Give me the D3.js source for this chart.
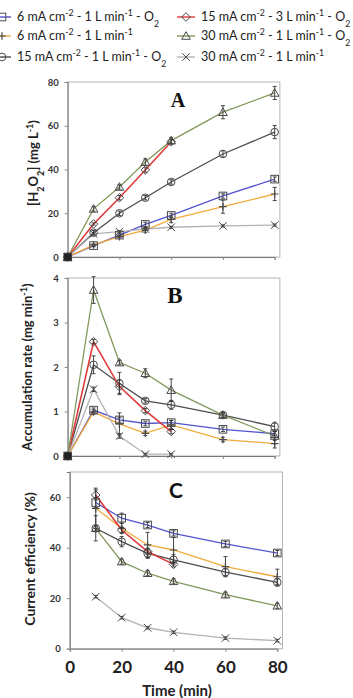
<!DOCTYPE html>
<html><head><meta charset="utf-8">
<script src="https://cdn.jsdelivr.net/npm/d3@7"></script>
<style>html,body{margin:0;padding:0;background:#fff;overflow:hidden}svg{display:block}</style>
</head><body>
<svg id="c" width="353" height="698"></svg>
<script>
// ---------- data ----------
const timesAB = [0, 10, 20, 30, 40, 60, 80];
const timesC = [10, 20, 30, 40, 60, 80];
const seriesKeys = ["sq", "plus", "circ", "diam", "tri", "x"];
const seriesColors = ["#5353cf", "#f0ac3a", "#4d4d4d", "#e03a3a", "#82995c", "#b3b3b3"];
const legendMain = ["6 mA cm", "6 mA cm", "15 mA cm", "15 mA cm", "30 mA cm", "30 mA cm"];
const legendFlow = ["1 L min", "1 L min", "1 L min", "3 L min", "1 L min", "1 L min"];
const legendO2 = [true, false, true, true, true, false];

// Panel A: [H2O2] (mg/L)
const A_sq   = [0, 5.2, 10.0, 14.9, 19.0, 27.9, 35.6];
const A_plus = [0, 5.5, 9.3, 12.3, 17.2, 23.0, 28.8];
const A_circ = [0, 11.1, 20.0, 27.1, 34.3, 47.1, 57.1];
const A_diam = [0, 15.1, 27.1, 39.8, 52.7];
const A_tri  = [0, 22.0, 32.0, 43.4, 53.2, 66.2, 75.0];
const A_x    = [0, 10.6, 11.6, 12.8, 13.6, 14.2, 14.6];
const A_err = {sq:[0,0.5,0.5,1,1,1,1], plus:[0,0.5,0.5,1,1.5,3,3], circ:[0,1,1,1,1,1.5,3],
  diam:[0,0.5,1,1,1], tri:[0,1,1,1.5,1.5,3,3], x:[0,0.5,0.5,0.5,0.5,0.5,0.5]};

// Panel B: accumulation rate (mg/min)
const B_sq   = [0, 1.03, 0.81, 0.73, 0.75, 0.60, 0.50];
const B_plus = [0, 0.99, 0.72, 0.51, 0.70, 0.37, 0.28];
const B_circ = [0, 2.05, 1.63, 1.24, 1.15, 0.92, 0.66];
const B_diam = [0, 2.57, 1.56, 1.02, 0.55];
const B_tri  = [0, 3.73, 2.10, 1.86, 1.48, 0.92, 0.45];
const B_x    = [0, 1.50, 0.45, 0.04, 0.04];
const B_err = {sq:[0,0.05,0.05,0.05,0.05,0.05,0.05], plus:[0,0.05,0.25,0.05,0.1,0.05,0.1],
  circ:[0,0.2,0.25,0.05,0.1,0.05,0.1], diam:[0,0.05,0.15,0.05,0.05], tri:[0,0.3,0.05,0.1,0.25,0.05,0.1],
  x:[0,0.05,0.05,0.02,0.02]};

// Panel C: current efficiency (%)
const C_sq   = [57.9, 51.7, 49.0, 45.7, 41.5, 37.9];
const C_plus = [55.6, 47.7, 41.1, 39.1, 32.5, 28.5];
const C_circ = [47.7, 42.4, 37.8, 35.2, 30.3, 26.3];
const C_diam = [60.9, 47.0, 38.5, 33.4];
const C_tri  = [47.7, 34.5, 29.9, 26.7, 21.4, 17.0];
const C_x    = [20.6, 12.3, 8.3, 6.5, 4.2, 3.2];
const C_err = {sq:[2,2,1,1,1,1], plus:[8,2,5,5,4,3], circ:[5,2,2,2,1.5,1.5],
  diam:[2,1,1,1], tri:[1,1,1,1,1,1], x:[0.5,0.5,0.5,0.5,0.5,0.5]};

const yTicksA = [0, 20, 40, 60, 80];
const yTicksB = [0, 1, 2, 3, 4];
const yTicksC = [0, 20, 40, 60];
const xTicks = [0, 20, 40, 60, 80];

// ---------- drawing ----------
const svg = d3.select("#c");
const SANS = "Lato, 'Open Sans', sans-serif";

function marker(g, key, cx, cy, s) {
  const st = "#4a4a4a";
  if (key === "sq") g.append("rect").attr("x", cx - s).attr("y", cy - s).attr("width", 2*s).attr("height", 2*s).attr("fill", "none").attr("stroke", st).attr("stroke-width", 1);
  else if (key === "circ") g.append("circle").attr("cx", cx).attr("cy", cy).attr("r", s).attr("fill", "none").attr("stroke", st).attr("stroke-width", 1);
  else if (key === "diam") g.append("path").attr("d", `M${cx},${cy-s-0.5}L${cx+s+0.5},${cy}L${cx},${cy+s+0.5}L${cx-s-0.5},${cy}Z`).attr("fill", "none").attr("stroke", st).attr("stroke-width", 1);
  else if (key === "tri") g.append("path").attr("d", `M${cx},${cy-s-0.5}L${cx+s+0.5},${cy+s-0.5}L${cx-s-0.5},${cy+s-0.5}Z`).attr("fill", "none").attr("stroke", st).attr("stroke-width", 1);
  else if (key === "plus") g.append("path").attr("d", `M${cx-s},${cy}L${cx+s},${cy}M${cx},${cy-s}L${cx},${cy+s}`).attr("stroke", st).attr("stroke-width", 1.2);
  else if (key === "x") g.append("path").attr("d", `M${cx-s},${cy-s}L${cx+s},${cy+s}M${cx-s},${cy+s}L${cx+s},${cy-s}`).attr("stroke", st).attr("stroke-width", 1);
}

function panel(opt) {
  const x = d3.scaleLinear().domain([0, 80]).range(opt.xr);
  const y = d3.scaleLinear().domain(opt.yd).range(opt.yr);
  const g = svg.append("g");
  const x0 = x(0), x1 = x(82), y0 = y(opt.yd[0]), y1 = y(opt.yd[1]);
  g.append("rect").attr("x", x0).attr("y", y1).attr("width", x1 - x0).attr("height", y0 - y1)
    .attr("fill", "none").attr("stroke", "#b5b5b5").attr("stroke-width", 1);
  // y axis
  const ya = g.append("g").attr("transform", `translate(${x0},0)`)
    .call(d3.axisLeft(y).tickValues(opt.yt).tickSize(3).tickPadding(6).tickFormat(d3.format("d")));
  ya.select(".domain").attr("stroke", "#777");
  ya.selectAll(".tick line").attr("stroke", "#888");
  ya.selectAll("text").attr("font-family", SANS).attr("font-weight", "bold").attr("font-size", 9.5).attr("fill", "#333");
  // x axis
  const xa = g.append("g").attr("transform", `translate(0,${y0})`)
    .call(d3.axisBottom(x).tickValues(xTicks).tickSize(3).tickFormat(opt.xlab ? d3.format("d") : ""));
  xa.select(".domain").attr("stroke", "#777");
  xa.selectAll(".tick line").attr("stroke", "#888");
  xa.selectAll("text").attr("font-family", SANS).attr("font-weight", "bold").attr("font-size", 17).attr("fill", "#222").attr("dy", "1.1em");
  // series
  const line = d3.line().defined(d => d[1] != null).x(d => x(d[0])).y(d => y(d[1]));
  opt.data.forEach((vals, i) => {
    const key = seriesKeys[i];
    const pts = vals.map((v, j) => [opt.times[j], v]);
    g.append("path").datum(pts).attr("d", line).attr("fill", "none")
      .attr("stroke", seriesColors[i]).attr("stroke-width", key === "diam" ? 1.6 : 1.3);
  });
  opt.data.forEach((vals, i) => {
    const key = seriesKeys[i];
    const err = opt.err[key];
    vals.forEach((v, j) => {
      const e = err[j] || 0;
      const cx = x(opt.times[j]);
      if (e > 0.0) {
        g.append("path").attr("d", `M${cx},${y(v - e)}L${cx},${y(v + e)}M${cx-2},${y(v - e)}L${cx+2},${y(v - e)}M${cx-2},${y(v + e)}L${cx+2},${y(v + e)}`)
          .attr("stroke", "#333").attr("stroke-width", 0.9).attr("fill", "none");
      }
      marker(g, key, cx, y(v), 3.8);
    });
  });
  // zero-point block
  if (opt.times[0] === 0) {
    g.append("rect").attr("x", x(0) - 3.5).attr("y", y(0) - 3.5).attr("width", 7).attr("height", 7).attr("fill", "#222");
  }
  // panel letter
  g.append("text").attr("x", opt.lx).attr("y", opt.ly).attr("text-anchor", "middle")
    .attr("font-family", opt.lfont).attr("font-weight", "bold").attr("font-size", opt.lsize).attr("fill", "#111").text(opt.letter);
  // y title
  const t = g.append("text").attr("transform", `translate(${opt.tx},${opt.ty}) rotate(-90)`).attr("text-anchor", "middle")
    .attr("font-family", SANS).attr("font-weight", "bold").attr("font-size", opt.tsize).attr("fill", "#222");
  opt.title(t);
}

function sup(t, s) { t.append("tspan").attr("baseline-shift", "super").attr("font-size", "70%").text(s); }
function sub(t, s) { t.append("tspan").attr("baseline-shift", "sub").attr("font-size", "70%").text(s); }

panel({
  xr: [67.7, 274.7], yd: [0, 80], yr: [257, 82], yt: yTicksA, times: timesAB,
  data: [A_sq, A_plus, A_circ, A_diam, A_tri, A_x], err: A_err,
  letter: "A", lx: 178, ly: 107, lsize: 20, lfont: "'Liberation Serif', 'DejaVu Serif', serif",
  tx: 38, ty: 163, tsize: 13, xlab: false,
  title: t => { t.append("tspan").text("[H"); sub(t, "2"); t.append("tspan").text("O"); sub(t, "2"); t.append("tspan").text("] (mg L"); sup(t, "-1"); t.append("tspan").text(")"); }
});
panel({
  xr: [67.7, 274.7], yd: [0, 4], yr: [456, 278], yt: yTicksB, times: timesAB,
  data: [B_sq, B_plus, B_circ, B_diam, B_tri, B_x], err: B_err,
  letter: "B", lx: 175, ly: 303, lsize: 23, lfont: "'Liberation Serif', 'DejaVu Serif', serif",
  tx: 32, ty: 367, tsize: 13, xlab: false,
  title: t => { t.append("tspan").text("Accumulation rate (mg min"); sup(t, "-1"); t.append("tspan").text(")"); }
});
panel({
  xr: [69.8, 277.3], yd: [0, 70], yr: [648.7, 472], yt: yTicksC, times: timesC,
  data: [C_sq, C_plus, C_circ, C_diam, C_tri, C_x], err: C_err,
  letter: "C", lx: 176, ly: 498, lsize: 21, lfont: SANS,
  tx: 35, ty: 559, tsize: 14, xlab: true,
  title: t => { t.append("tspan").text("Current efficiency (%)"); }
});

svg.append("text").attr("x", 177).attr("y", 696).attr("text-anchor", "middle")
  .attr("font-family", SANS).attr("font-weight", "bold").attr("font-size", 15).attr("fill", "#222").text("Time (min)");

// ---------- legend ----------
const legPos = [[2, 17], [2, 36], [2, 57], [186, 17], [186, 36], [186, 57]];
seriesKeys.forEach((key, i) => {
  const [mx, my] = legPos[i];
  const lg = svg.append("g");
  lg.append("line").attr("x1", mx - 9).attr("x2", mx + 9).attr("y1", my).attr("y2", my)
    .attr("stroke", seriesColors[i]).attr("stroke-width", 1.4);
  marker(lg, key, mx, my, 3.8);
  const t = lg.append("text").attr("x", mx + 15).attr("y", my + 4).attr("font-family", SANS)
    .attr("font-size", 12.5).attr("fill", "#222");
  t.append("tspan").text(legendMain[i]); sup(t, "-2");
  t.append("tspan").text(" - " + legendFlow[i]); sup(t, "-1");
  if (legendO2[i]) { t.append("tspan").text(" - O"); sub(t, "2"); }
});
</script>
</body></html>
